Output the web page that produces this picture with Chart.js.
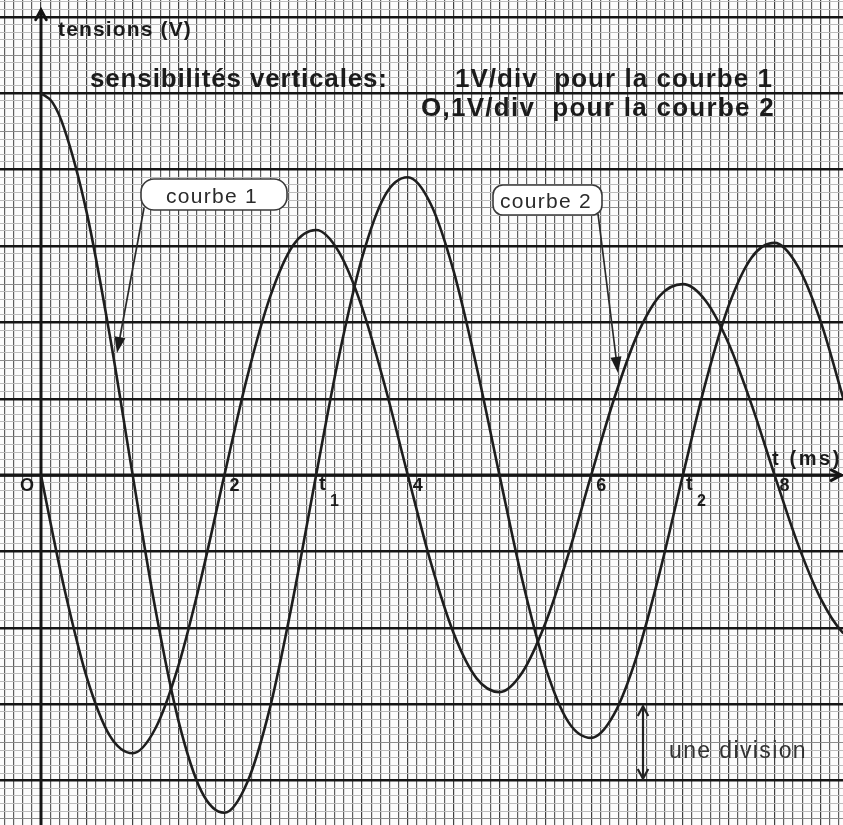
<!DOCTYPE html>
<html lang="fr">
<head>
<meta charset="utf-8">
<title>tensions (V)</title>
<script src="https://cdn.jsdelivr.net/npm/chart.js@4.4.1/dist/chart.umd.min.js"></script>
<style>
  html, body { margin: 0; padding: 0; background: #fcfcfc; }
  #canvas-container { position: relative; width: 843px; height: 825px; }
</style>
</head>
<body>
<div id="canvas-container"><canvas id="myChart"></canvas></div>
<script>
// temps (ms), un relevé tous les 0,25 ms (plus un au début)
const temps = [0, 0.125, 0.25, 0.5, 0.75, 1, 1.25, 1.5, 1.75, 2, 2.25, 2.5, 2.75,
               3, 3.25, 3.5, 3.75, 4, 4.25, 4.5, 4.75, 5, 5.25, 5.5, 5.75,
               6, 6.25, 6.5, 6.75, 7, 7.25, 7.5, 7.75, 8, 8.25, 8.5, 8.75, 9];

const courbe1 = [5.00, 4.88, 4.55, 3.43, 1.83, 0.00, -1.77, -3.22, -4.14, -4.42, -4.02, -3.03, -1.61,
                 0.00, 1.56, 2.84, 3.66, 3.90, 3.55, 2.67, 1.42, 0.00, -1.38, -2.51, -3.23,
                 -3.44, -3.13, -2.36, -1.26, 0.00, 1.22, 2.22, 2.85, 3.04, 2.74, 2.02, 1.00, -0.05];

const courbe2 = [0.00, -0.75, -1.46, -2.65, -3.41, -3.64, -3.31, -2.49, -1.33, 0.00, 1.29, 2.34, 3.01,
                 3.21, 2.92, 2.20, 1.17, 0.00, -1.14, -2.07, -2.66, -2.84, -2.58, -1.94, -1.04,
                 0.00, 1.00, 1.83, 2.35, 2.50, 2.28, 1.72, 0.92, 0.00, -0.89, -1.61, -2.07, -2.22];

// graduations de l'axe des temps
const xGraduations = [0, 2, 4, 6, 8];
const xLabels = ['O', '2', '4', '6', '8'];
const instants = [3, 7];
const instantsLabels = ['1', '2'];

function tranche(debut, fin) {
    // lignes du papier millimétré, tous les dixièmes
    const out = [];
    for (let i = debut; i <= fin; i++) out.push({ value: i / 10 });
    return out;
}

function estEntier(v) { return Math.abs(v - Math.round(v)) < 1e-6; }
function estDemi(v) { return Math.abs(v * 2 - Math.round(v * 2)) < 1e-6; }

function texte(ctx, str, x, y, font, largeur, align) {
    ctx.font = font;
    ctx.letterSpacing = '0px';
    ctx.textAlign = align || 'left';
    if (largeur) {
        const w = ctx.measureText(str).width;
        ctx.letterSpacing = ((largeur - w) / str.length).toFixed(2) + 'px';
    }
    ctx.fillText(str, x, y);
    ctx.letterSpacing = '0px';
}

function fleche(ctx, x1, y1, x2, y2, taille) {
    // trait fin + pointe pleine
    const a = Math.atan2(y2 - y1, x2 - x1);
    ctx.beginPath();
    ctx.moveTo(x1, y1);
    ctx.lineTo(x2 - Math.cos(a) * taille * 0.6, y2 - Math.sin(a) * taille * 0.6);
    ctx.stroke();
    ctx.beginPath();
    ctx.moveTo(x2, y2);
    ctx.lineTo(x2 - taille * Math.cos(a - 0.33), y2 - taille * Math.sin(a - 0.33));
    ctx.lineTo(x2 - taille * Math.cos(a + 0.33), y2 - taille * Math.sin(a + 0.33));
    ctx.closePath();
    ctx.fill();
}

function pointeOuverte(ctx, x, y, a, taille) {
    ctx.beginPath();
    ctx.moveTo(x - taille * Math.cos(a - 0.5), y - taille * Math.sin(a - 0.5));
    ctx.lineTo(x, y);
    ctx.lineTo(x - taille * Math.cos(a + 0.5), y - taille * Math.sin(a + 0.5));
    ctx.stroke();
}

function bulle(ctx, x, y, w, h, r, str, tx, ty, tw) {
    ctx.save();
    ctx.beginPath();
    ctx.roundRect(x, y, w, h, r);
    ctx.fillStyle = '#ffffff';
    ctx.fill();
    ctx.lineWidth = 1.6;
    ctx.strokeStyle = '#3a3a3a';
    ctx.stroke();
    ctx.fillStyle = '#2a2a2a';
    texte(ctx, str, tx, ty, '21px "Liberation Sans", Arial, sans-serif', tw);
    ctx.restore();
}

const axesPlugin = {
    id: 'axes',
    beforeDatasetsDraw(chart) {
        const ctx = chart.ctx;
        const { x, y } = chart.scales;
        const x0 = x.getPixelForValue(0);
        const y0 = y.getPixelForValue(0);
        ctx.save();
        ctx.strokeStyle = '#151515';
        ctx.lineCap = 'round';
        // axe des tensions
        ctx.lineWidth = 3;
        ctx.beginPath();
        ctx.moveTo(x0, chart.height);
        ctx.lineTo(x0, 11);
        ctx.stroke();
        pointeOuverte(ctx, x0, 10, -Math.PI / 2, 11);
        // axe des temps
        ctx.lineWidth = 3.4;
        ctx.beginPath();
        ctx.moveTo(0, y0);
        ctx.lineTo(chart.width - 2, y0);
        ctx.stroke();
        ctx.lineWidth = 3;
        pointeOuverte(ctx, chart.width - 2, y0, 0, 11);
        ctx.restore();
    },
    afterDatasetsDraw(chart) {
        const ctx = chart.ctx;
        const { x, y } = chart.scales;
        const y0 = y.getPixelForValue(0);
        const bold = (s) => 'bold ' + s + 'px "Liberation Sans", Arial, sans-serif';
        ctx.save();
        ctx.fillStyle = '#1b1b1b';
        ctx.textBaseline = 'alphabetic';

        texte(ctx, 'tensions (V)', 58, 36, bold(21), 134);
        texte(ctx, 'sensibilités verticales:', 90, 87, bold(26), 298);
        texte(ctx, '1V/div  pour la courbe 1', 455, 87, bold(26), 318);
        texte(ctx, 'O,1V/div  pour la courbe 2', 421, 116, bold(26), 354);

        // graduations
        xGraduations.forEach((v, i) => {
            const px = x.getPixelForValue(v);
            if (v === 0) texte(ctx, xLabels[i], px - 7, y0 + 16, bold(18), 0, 'right');
            else texte(ctx, xLabels[i], px + 5, y0 + 16, bold(18), 0, 'left');
        });
        instants.forEach((v, i) => {
            const px = x.getPixelForValue(v);
            texte(ctx, 't', px + 3, y0 + 15, bold(20), 0, 'left');
            texte(ctx, instantsLabels[i], px + 14, y0 + 31, bold(16), 0, 'left');
        });
        texte(ctx, 't (ms)', 772, y0 - 10, bold(20), 70);

        // bulles
        ctx.strokeStyle = '#2a2a2a';
        ctx.fillStyle = '#1b1b1b';
        ctx.lineWidth = 1.7;
        fleche(ctx, 144, 208, 117, 353, 17);
        fleche(ctx, 598, 214, 618, 373, 17);
        bulle(ctx, 141, 179, 146, 31, 13, 'courbe 1', 166, 203, 92);
        bulle(ctx, 493, 185, 109, 30, 10, 'courbe 2', 500, 208, 92);

        // une division
        const ya = y.getPixelForValue(-3);
        const yb = y.getPixelForValue(-4);
        ctx.strokeStyle = '#222';
        ctx.lineWidth = 2.2;
        ctx.beginPath();
        ctx.moveTo(643, ya + 2);
        ctx.lineTo(643, yb - 2);
        ctx.stroke();
        pointeOuverte(ctx, 643, ya + 2, -Math.PI / 2, 11);
        pointeOuverte(ctx, 643, yb - 2, Math.PI / 2, 11);
        ctx.fillStyle = '#333';
        texte(ctx, 'une division', 669, 758, '23px "Liberation Sans", Arial, sans-serif', 138);
        ctx.restore();
    }
};

function createChart() {
    const ctx = document.getElementById('myChart').getContext('2d');
    return new Chart(ctx, {
        type: 'line',
        data: {
            datasets: [
                { label: 'courbe 1', data: temps.map((t, i) => ({ x: t, y: courbe1[i] })) },
                { label: 'courbe 2', data: temps.map((t, i) => ({ x: t, y: courbe2[i] })) }
            ]
        },
        options: {
            responsive: true,
            maintainAspectRatio: false,
            animation: false,
            layout: { padding: 0, autoPadding: false },
            elements: {
                point: { radius: 0 },
                line: { borderColor: '#1e1e1e', borderWidth: 2.6, cubicInterpolationMode: 'monotone', fill: false }
            },
            plugins: {
                legend: { display: false },
                tooltip: { enabled: false }
            },
            scales: {
                x: {
                    type: 'linear',
                    min: -0.447,
                    max: 8.746,
                    border: { display: false },
                    ticks: { display: false, autoSkip: false },
                    afterBuildTicks: (axis) => { axis.ticks = tranche(-4, 87); },
                    grid: {
                        drawTicks: false,
                        color: (c) => estDemi(c.tick.value) ? '#404040' : '#5e5e5e',
                        lineWidth: 1.2
                    }
                },
                y: {
                    type: 'linear',
                    min: -4.58,
                    max: 6.22,
                    border: { display: false },
                    ticks: { display: false, autoSkip: false },
                    afterBuildTicks: (axis) => { axis.ticks = tranche(-45, 62); },
                    grid: {
                        drawTicks: false,
                        color: (c) => estEntier(c.tick.value) ? '#151515' : (estDemi(c.tick.value) ? '#8c8c8c' : '#bcbcbc'),
                        lineWidth: (c) => estEntier(c.tick.value) ? 2.4 : 1
                    }
                }
            }
        },
        plugins: [axesPlugin]
    });
}

let myChart = createChart();
</script>
</body>
</html>
